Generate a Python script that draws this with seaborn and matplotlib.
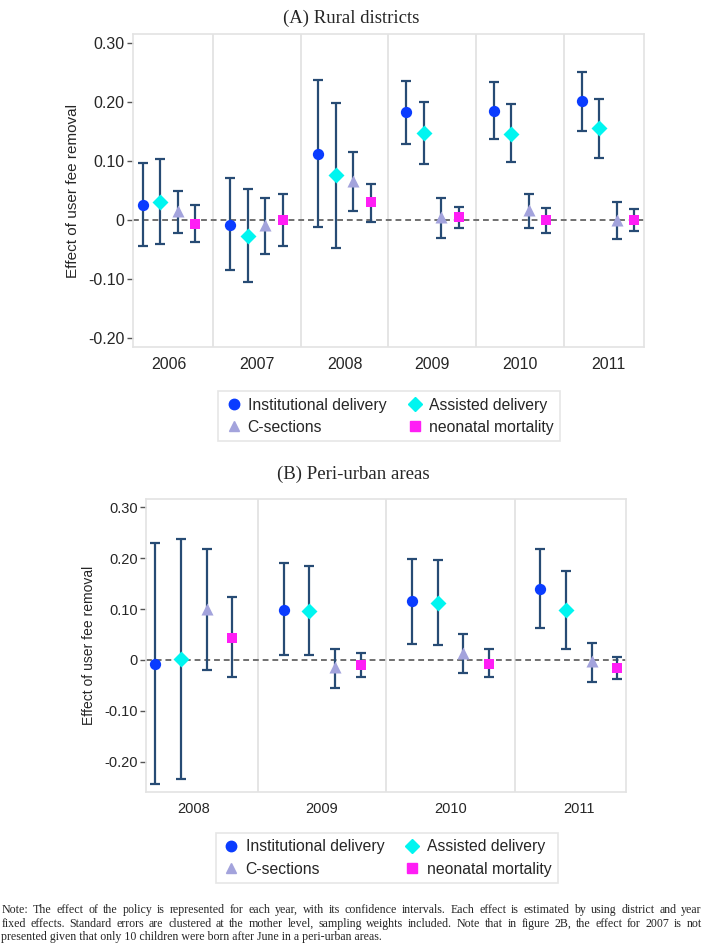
import numpy as np
import pandas as pd
import seaborn as sns
import matplotlib.pyplot as plt
from matplotlib.lines import Line2D

# Panel A - rural districts
years_a = ['2006', '2007', '2008', '2009', '2010', '2011']
inst_a = [0.026, -0.008, 0.113, 0.183, 0.186, 0.202]
inst_a_lo = [-0.044, -0.085, -0.011, 0.130, 0.138, 0.152]
inst_a_hi = [0.097, 0.071, 0.238, 0.236, 0.235, 0.252]
assist_a = [0.031, -0.027, 0.077, 0.148, 0.147, 0.156]
assist_a_lo = [-0.040, -0.106, -0.047, 0.096, 0.098, 0.105]
assist_a_hi = [0.104, 0.052, 0.199, 0.201, 0.197, 0.206]
csec_a = [0.016, -0.009, 0.066, 0.005, 0.017, 0.000]
csec_a_lo = [-0.022, -0.058, 0.016, -0.030, -0.014, -0.032]
csec_a_hi = [0.050, 0.037, 0.115, 0.038, 0.045, 0.030]
neo_a = [-0.007, 0.000, 0.030, 0.005, 0.000, 0.000]
neo_a_lo = [-0.038, -0.044, -0.003, -0.014, -0.022, -0.019]
neo_a_hi = [0.025, 0.045, 0.062, 0.023, 0.021, 0.019]

# Panel B - peri-urban areas
years_b = ['2008', '2009', '2010', '2011']
inst_b = [-0.007, 0.099, 0.115, 0.140]
inst_b_lo = [-0.243, 0.009, 0.032, 0.062]
inst_b_hi = [0.229, 0.190, 0.199, 0.218]
assist_b = [0.001, 0.097, 0.112, 0.098]
assist_b_lo = [-0.233, 0.009, 0.030, 0.022]
assist_b_hi = [0.237, 0.185, 0.196, 0.175]
csec_b = [0.100, -0.014, 0.014, -0.003]
csec_b_lo = [-0.020, -0.055, -0.025, -0.044]
csec_b_hi = [0.218, 0.022, 0.050, 0.034]
neo_b = [0.044, -0.010, -0.007, -0.016]
neo_b_lo = [-0.034, -0.034, -0.034, -0.038]
neo_b_hi = [0.123, 0.014, 0.022, 0.006]

outcomes = ['Institutional delivery', 'Assisted delivery', 'C-sections', 'neonatal mortality']
colors = {'Institutional delivery': '#0A3CFF', 'Assisted delivery': '#00F5F0',
          'C-sections': '#A3A3DC', 'neonatal mortality': '#FF1EF5'}
markers = {'Institutional delivery': 'o', 'Assisted delivery': 'D',
           'C-sections': '^', 'neonatal mortality': 's'}
sizes = {'Institutional delivery': 66, 'Assisted delivery': 66,
         'C-sections': 75, 'neonatal mortality': 58}
offsets = [-0.3, -0.1, 0.1, 0.3]
ytick_vals = [0.3, 0.2, 0.1, 0.0, -0.1, -0.2]
ytick_labels = ['0.30', '0.20', '0.10', '0', '-0.10', '-0.20']


def make_df(years, est, lo, hi):
    rows = []
    for k, name in enumerate(outcomes):
        for i, y in enumerate(years):
            rows.append({'year': y, 'pos': i + offsets[k], 'outcome': name,
                         'est': est[k][i], 'lo': lo[k][i], 'hi': hi[k][i]})
    return pd.DataFrame(rows)


df_a = make_df(years_a, [inst_a, assist_a, csec_a, neo_a],
               [inst_a_lo, assist_a_lo, csec_a_lo, neo_a_lo],
               [inst_a_hi, assist_a_hi, csec_a_hi, neo_a_hi])
df_b = make_df(years_b, [inst_b, assist_b, csec_b, neo_b],
               [inst_b_lo, assist_b_lo, csec_b_lo, neo_b_lo],
               [inst_b_hi, assist_b_hi, csec_b_hi, neo_b_hi])

sns.set_theme(style='white')
plt.rcParams['font.family'] = ['Liberation Sans', 'DejaVu Sans']

fig = plt.figure(figsize=(7.03, 9.46), dpi=100)
ax_a = fig.add_axes([0.189, 0.633, 0.727, 0.331])
ax_b = fig.add_axes([0.208, 0.163, 0.683, 0.310])


def draw_panel(ax, df, years, ylim, fs, pad_x):
    n = len(years)
    ax.axhline(0, color='#707070', lw=1.4, ls=(0, (3, 2)), zorder=1)
    for s in range(1, n):
        ax.axvline(s - 0.5, color='#E0E0E0', lw=1.2, zorder=0)
    ax.errorbar(df['pos'], df['est'],
                yerr=[df['est'] - df['lo'], df['hi'] - df['est']],
                fmt='none', ecolor='#274B74', elinewidth=1.6, capsize=3.5,
                capthick=1.6, zorder=2)
    for name in outcomes:
        sub = df[df['outcome'] == name]
        sns.scatterplot(data=sub, x='pos', y='est', ax=ax, color=colors[name],
                        marker=markers[name], s=sizes[name], linewidth=0,
                        zorder=3, legend=False)
    ax.set_xlim(-pad_x, n - 1 + pad_x)
    ax.set_ylim(*ylim)
    ax.set_xticks(range(n))
    ax.set_xticklabels(years, fontsize=fs)
    ax.set_yticks(ytick_vals)
    ax.set_yticklabels(ytick_labels, fontsize=fs)
    ax.tick_params(axis='x', length=0, pad=7)
    ax.tick_params(axis='y', length=4, width=1, color='#555555', pad=2, left=True)
    ax.set_xlabel('')
    ax.set_ylabel('Effect of user fee removal', fontsize=fs - 0.5, labelpad=6)
    for sp in ax.spines.values():
        sp.set_color('#E3E3E3')
        sp.set_linewidth(1.2)


draw_panel(ax_a, df_a, years_a, (-0.216, 0.316), 11.5, 0.41)
draw_panel(ax_b, df_b, years_b, (-0.259, 0.317), 10.5, 0.37)

fig.text(0.5, 0.990, '(A) Rural districts', ha='center', va='top',
         family='Liberation Serif', fontsize=13.5)
fig.text(0.503, 0.508, '(B) Peri-urban areas', ha='center', va='top',
         family='Liberation Serif', fontsize=13.5)

handles = [Line2D([], [], ls='none', marker=markers[n], color=colors[n],
                  markersize=7.5 if n != 'neonatal mortality' else 6.5) for n in outcomes]
order = [0, 2, 1, 3]
for anchor in [(0.553, 0.560), (0.550, 0.093)]:
    leg = fig.legend([handles[i] for i in order], [outcomes[i] for i in order],
                     ncol=2, loc='center', bbox_to_anchor=anchor,
                     fontsize=11.3, frameon=True, fancybox=False,
                     handletextpad=0.3, columnspacing=1.2, handlelength=1.2,
                     labelspacing=0.45, borderpad=0.4)
    leg.get_frame().set_edgecolor('#E0E0E0')
    leg.get_frame().set_linewidth(1.2)

note_lines = [
    'Note: The effect of the policy is represented for each year, with its confidence intervals. Each effect is estimated by using district and year',
    'fixed effects. Standard errors are clustered at the mother level, sampling weights included. Note that in figure 2B, the effect for 2007 is not',
    'presented given that only 10 children were born after June in a peri-urban areas.',
]
# justified note text: spread words of the first two lines across the width
renderer = fig.canvas.get_renderer()
x0, x1 = 0.002, 0.998
for i, line in enumerate(note_lines):
    yy = 0.038 - i * 0.0145
    if i == len(note_lines) - 1:
        fig.text(x0, yy, line, ha='left', va='center',
                 family='Liberation Serif', fontsize=8.6)
        continue
    words = line.split(' ')
    items = [fig.text(0, yy, w, ha='left', va='center',
                      family='Liberation Serif', fontsize=8.6) for w in words]
    widths = [t.get_window_extent(renderer).width / fig.bbox.width for t in items]
    gap = (x1 - x0 - sum(widths)) / (len(words) - 1)
    x = x0
    for t, w in zip(items, widths):
        t.set_x(x)
        x += w + gap

fig.savefig('out.png', dpi=100)
